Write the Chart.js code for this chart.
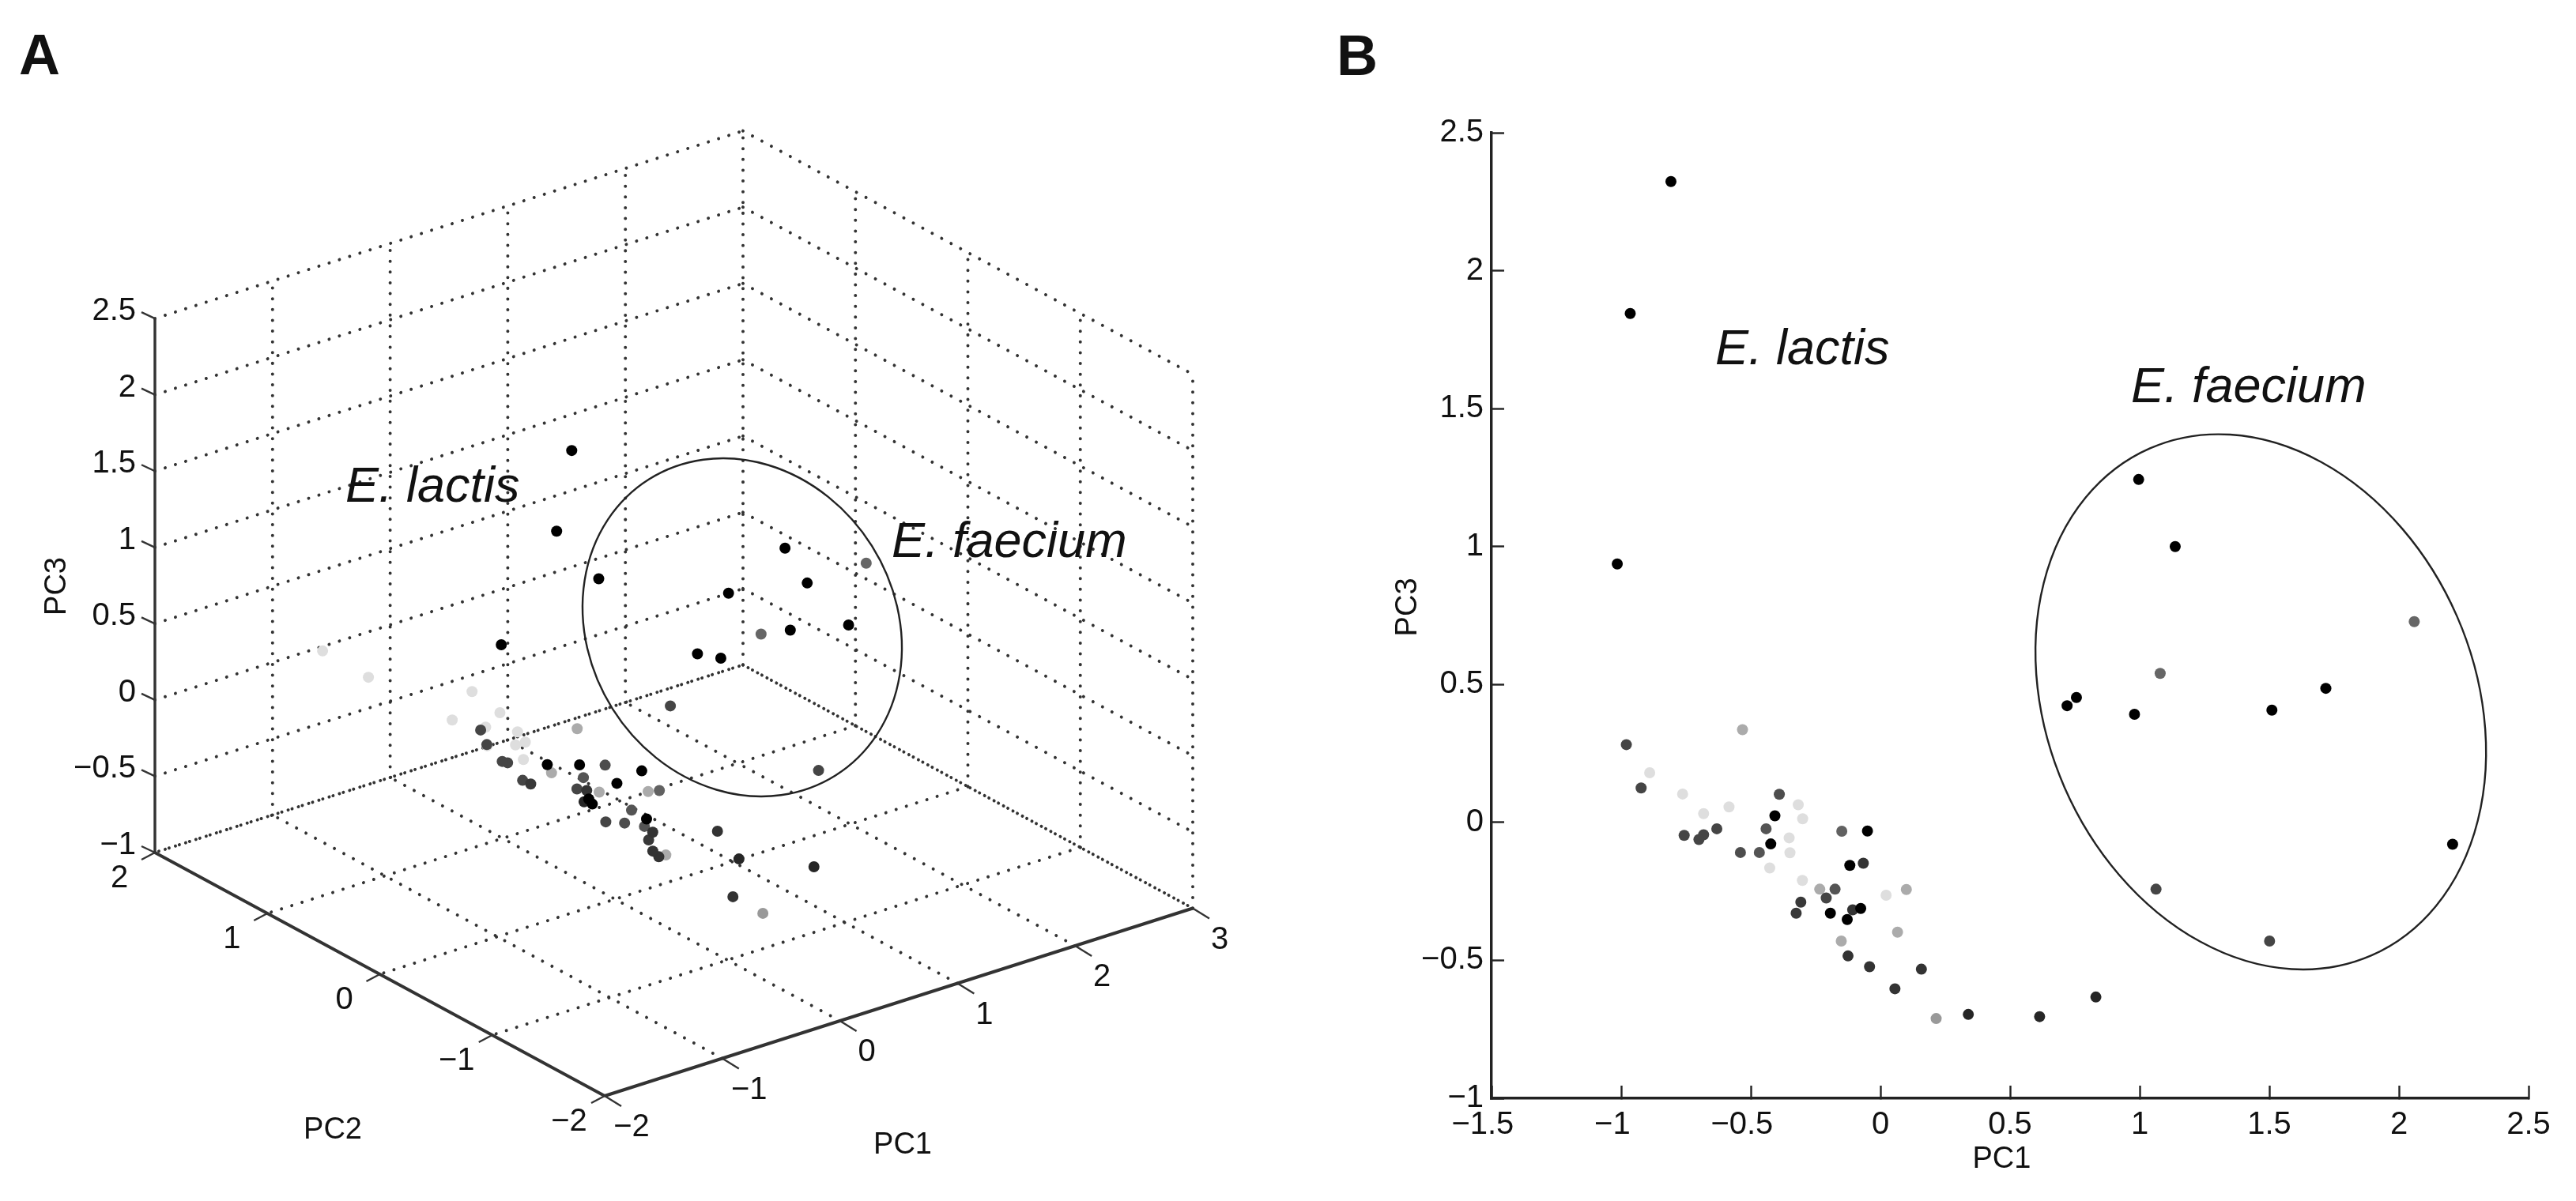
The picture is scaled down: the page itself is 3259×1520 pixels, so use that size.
<!DOCTYPE html>
<html lang="en">
<head>
  <meta charset="UTF-8">
  <title>PCA of E. lactis and E. faecium</title>
  <script src="https://cdn.jsdelivr.net/npm/chart.js"></script>
  <style>
    html, body { margin: 0; background: #fff; overflow: hidden; }
    canvas { position: absolute; top: 0; }
    #panelA { left: 0; }
    #panelB { left: 1640px; }
  </style>
</head>
<body>
  <canvas id="panelA" width="1640" height="1520"></canvas>
  <canvas id="panelB" width="1619" height="1520"></canvas>

  <script>
    // Scores, lightest marks first so dark ones sit on top
    const pc1 = [
      -0.89, -0.763, -0.682, -0.584, -0.317, -0.352, -0.349, -0.427, -0.301, 0.022, -0.3,
      -0.532, -0.234, 0.1, 0.066, -0.151, 0.215,
      2.059, 1.079, -0.149, -0.39, -0.467, -0.441, -0.175, -0.54,
      -0.209, -0.98, -0.923, -0.631, -0.757, -0.682, -0.7, 1.063, 1.501,
      -0.307, -0.325, -0.107, -0.125, -0.042, 0.158, 0.056, -0.066, 0.339, 0.614, 0.831,
      -0.407, -0.423, -0.05, -0.118, -0.193, -0.076, -0.128,
      0.996, 1.137, 0.756, 0.72, 0.98, 1.51, 1.718, 2.207, -0.808, -0.965, -1.015
    ];
    const pc2 = [
      1.67, 0.65, 1.48, 0.54, 0.94, 0.43, 0.52, 0.69, 0.5, 0.89, 0.71,
      -0.22, 0.32, -0.19, 0.21, -0.61, -1.09,
      -0.08, -0.17, -0.55, -0.32, -0.75, -0.18, -0.33, -0.65,
      0.12, 0.17, -0.01, 0.48, 0.03, 0.29, -0.65, 0.62, -0.24,
      -0.62, 0.41, 0.14, -0.52, -0.38, -0.17, -0.99, -0.98, 0.63, -0.46, -0.9,
      -0.11, 0.16, -0.29, -0.14, 0, -0.36, 0.1,
      -0.47, -0.52, -0.15, 0.02, 1.17, 0.57, -0.28, 0.75, -0.46, -0.49, -0.05
    ];
    const pc3 = [
      0.18, 0.103, 0.032, 0.056, 0.064, -0.056, -0.11, -0.165, -0.21, -0.264, 0.013,
      0.336, -0.242, -0.243, -0.398, -0.43, -0.711,
      0.728, 0.54, -0.032, 0.102, -0.109, -0.023, -0.242, -0.109,
      -0.274, 0.282, 0.125, -0.023, -0.047, -0.045, -0.062, -0.242, -0.43,
      -0.289, -0.329, -0.317, -0.484, -0.523, -0.532, -0.603, -0.148, -0.696, -0.704, -0.633,
      0.024, -0.078, -0.031, -0.156, -0.329, -0.312, -0.352,
      1.243, 1, 0.453, 0.423, 0.392, 0.407, 0.486, -0.079, 2.323, 1.845, 0.937
    ];
    // grey level of each mark, 0 = black, 1 = white
    const shade = [
      0.87, 0.87, 0.87, 0.87, 0.87, 0.87, 0.87, 0.87, 0.87, 0.87, 0.87,
      0.67, 0.67, 0.67, 0.67, 0.67, 0.6,
      0.4, 0.4, 0.38, 0.3, 0.33, 0.33, 0.33, 0.3,
      0.27, 0.27, 0.27, 0.27, 0.27, 0.27, 0.27, 0.27, 0.27,
      0.22, 0.22, 0.2, 0.2, 0.2, 0.2, 0.2, 0.2, 0.15, 0.15, 0.15,
      0, 0, 0, 0, 0, 0, 0,
      0, 0, 0, 0, 0, 0, 0, 0, 0, 0, 0
    ];

    const pc1Ticks3d = [-2, -1, 0, 1, 2, 3];
    const pc2Ticks3d = [2, 1, 0, -1, -2];
    const pc3Ticks3d = [-1, -0.5, 0, 0.5, 1, 1.5, 2, 2.5];

    const FONT = '"Liberation Sans", Arial, sans-serif';
    const INK = '#222';

    const grey = s => { const v = Math.round(s * 255); return `rgb(${v},${v},${v})`; };
    const fmt = v => (v < 0 ? '\u2212' : '') + Math.abs(v);

    // Panel A view: the box is drawn orthographically, each unit maps to a fixed shift
    function project(a, b, c) {
      const u = a + 2, v = 2 - b, w = c + 1;
      return {
        x: 196 + 148.8 * u + 142.25 * v,
        y: 1079 - 47.5 * u + 77 * v - 193.1 * w
      };
    }

    function drawTexts(ctx, items) {
      ctx.save();
      ctx.fillStyle = '#111';
      ctx.textBaseline = 'alphabetic';
      items.forEach(t => {
        ctx.save();
        ctx.font = t.font;
        ctx.textAlign = t.align || 'left';
        ctx.translate(t.x, t.y);
        if (t.rotate) ctx.rotate(t.rotate);
        ctx.fillText(t.text, 0, 0);
        ctx.restore();
      });
      ctx.restore();
    }

    // outline around a group, given as centre, half extents on each axis and their correlation
    function drawEllipse(chart, e) {
      const xs = chart.scales.x, ys = chart.scales.y;
      const cx = xs.getPixelForValue(e.x), cy = ys.getPixelForValue(e.y);
      const dx = xs.getPixelForValue(e.x + e.rx) - cx;
      const dy = ys.getPixelForValue(e.y + e.ry) - cy;
      const c = e.rho * dx * dy;
      const a = dx * dx, b = dy * dy;
      const mid = (a + b) / 2, diff = Math.sqrt(((a - b) / 2) ** 2 + c * c);
      const angle = 0.5 * Math.atan2(2 * c, a - b);
      const ctx = chart.ctx;
      ctx.save();
      ctx.strokeStyle = '#222';
      ctx.lineWidth = 2.4;
      ctx.beginPath();
      ctx.ellipse(cx, cy, Math.sqrt(mid + diff), Math.sqrt(mid - diff), angle, 0, Math.PI * 2);
      ctx.stroke();
      ctx.restore();
    }

    // ---- Panel A ----
    const lines3d = [];
    function addDotted(p, q) {
      lines3d.push({
        type: 'line', data: [project(...p), project(...q)],
        borderColor: '#333', borderWidth: 4, borderDash: [0.01, 13.6], borderCapStyle: 'round',
        pointRadius: 0, fill: false
      });
    }
    function addSolid(p, q, width) {
      lines3d.push({
        type: 'line', data: [project(...p), project(...q)],
        borderColor: '#333', borderWidth: width, pointRadius: 0, fill: false
      });
    }
    // tick stub: starts on the axis and runs a few pixels off it
    function addTick(p, off) {
      const a = project(...p);
      lines3d.push({
        type: 'line', data: [a, { x: a.x + off[0], y: a.y + off[1] }],
        borderColor: '#333', borderWidth: 2.4, pointRadius: 0, fill: false
      });
    }

    pc3Ticks3d.forEach(z => {
      addDotted([-2, 2, z], [3, 2, z]);
      addDotted([3, 2, z], [3, -2, z]);
    });
    pc1Ticks3d.slice(1).forEach(x => addDotted([x, 2, -1], [x, 2, 2.5]));
    pc2Ticks3d.slice(1).forEach(y => addDotted([3, y, -1], [3, y, 2.5]));
    pc1Ticks3d.slice(1).forEach(x => addDotted([x, -2, -1], [x, 2, -1]));
    pc2Ticks3d.slice(0, -1).forEach(y => addDotted([3, y, -1], [-2, y, -1]));

    addSolid([-2, 2, -1], [-2, 2, 2.5], 3.4);
    addSolid([-2, 2, -1], [-2, -2, -1], 4);
    addSolid([-2, -2, -1], [3, -2, -1], 4);
    pc3Ticks3d.forEach(z => addTick([-2, 2, z], [-17, -8]));
    pc2Ticks3d.forEach(y => addTick([-2, y, -1], [-17, 9]));
    pc1Ticks3d.forEach(x => addTick([x, -2, -1], [21, 13]));

    const texts3d = [
      { text: 'A', x: 24, y: 94, font: `bold 72px ${FONT}` },
      { text: 'E. lactis', x: 437, y: 635, font: `italic 63px ${FONT}` },
      { text: 'E. faecium', x: 1128, y: 705, font: `italic 63px ${FONT}` },
      { text: 'PC1', x: 1142, y: 1460, font: `38px ${FONT}`, align: 'center' },
      { text: 'PC2', x: 421, y: 1441, font: `38px ${FONT}`, align: 'center' },
      { text: 'PC3', x: 83, y: 742, font: `38px ${FONT}`, align: 'center', rotate: -Math.PI / 2 }
    ];
    pc3Ticks3d.forEach(z => {
      const p = project(-2, 2, z);
      texts3d.push({ text: fmt(z), x: p.x - 24, y: p.y + 2, font: `40px ${FONT}`, align: 'right' });
    });
    pc2Ticks3d.forEach(y => {
      const p = project(-2, y, -1);
      texts3d.push({ text: fmt(y), x: p.x - 45, y: p.y + 44, font: `40px ${FONT}`, align: 'center' });
    });
    pc1Ticks3d.forEach(x => {
      const p = project(x, -2, -1);
      texts3d.push({ text: fmt(x), x: p.x + 34, y: p.y + 51, font: `40px ${FONT}`, align: 'center' });
    });

    new Chart(document.getElementById('panelA'), {
      type: 'scatter',
      data: {
        datasets: [{
          data: pc1.map((v, i) => project(v, pc2[i], pc3[i])),
          pointRadius: 7, pointBorderWidth: 0,
          pointBackgroundColor: shade.map(grey),
          showLine: false, order: 0
        }].concat(lines3d.map(d => Object.assign(d, { order: 1 })))
      },
      options: {
        responsive: false, animation: false,
        layout: { autoPadding: false },
        plugins: { legend: { display: false }, tooltip: { enabled: false } },
        scales: {
          x: { type: 'linear', display: false, min: 0, max: 1640 },
          y: { type: 'linear', display: false, min: 0, max: 1520, reverse: true }
        }
      },
      plugins: [{
        id: 'panelATexts',
        afterDatasetsDraw(chart) {
          drawEllipse(chart, { x: 939, y: 794, rx: 202, ry: 214, rho: 0.12 });
          drawTexts(chart.ctx, texts3d);
        }
      }]
    });

    // ---- Panel B ----
    const textsB = [
      { text: 'B', x: 51, y: 95, font: `bold 72px ${FONT}` },
      { text: 'E. lactis', x: 530, y: 461, font: `italic 63px ${FONT}` },
      { text: 'E. faecium', x: 1056, y: 509, font: `italic 63px ${FONT}` }
    ];

    const axisStyle = {
      grid: { drawOnChartArea: false, tickLength: -16, tickWidth: 2.4, tickColor: INK },
      border: { color: INK, width: 3.4 }
    };

    new Chart(document.getElementById('panelB'), {
      type: 'scatter',
      data: {
        datasets: [{
          data: pc1.map((v, i) => ({ x: v, y: pc3[i] })),
          pointRadius: 7, pointBorderWidth: 0,
          pointBackgroundColor: shade.map(grey),
          showLine: false
        }]
      },
      options: {
        responsive: false, animation: false,
        layout: { autoPadding: false, padding: { top: 168, right: 60 } },
        plugins: { legend: { display: false }, tooltip: { enabled: false } },
        scales: {
          x: Object.assign({
            type: 'linear', min: -1.5, max: 2.5,
            afterFit(s) { s.height = 130; },
            // the spaces pull the centred titles off the middle of the axis, as in the original
            title: { display: true, text: 'PC1  ', color: '#111', font: { family: FONT, size: 38 }, padding: { top: 30, bottom: 30 } },
            ticks: {
              stepSize: 0.5, autoSkip: false, maxRotation: 0, padding: 26, color: '#111',
              font: { family: FONT, size: 40 },
              callback: v => v < 0 ? fmt(v) + '  ' : fmt(v)
            }
          }, axisStyle),
          y: Object.assign({
            type: 'linear', min: -1, max: 2.5,
            afterFit(s) { s.width = 247; },
            title: { display: true, text: '  PC3', color: '#111', font: { family: FONT, size: 38 }, padding: { top: 119, bottom: 0 } },
            ticks: {
              stepSize: 0.5, autoSkip: false, padding: 26, color: '#111',
              font: { family: FONT, size: 40 },
              callback: v => fmt(v)
            }
          }, axisStyle)
        }
      },
      plugins: [{
        id: 'panelBTexts',
        afterDatasetsDraw(chart) {
          drawEllipse(chart, { x: 1.467, y: 0.437, rx: 0.869, ry: 0.97, rho: -0.187 });
          drawTexts(chart.ctx, textsB);
        }
      }]
    });
  </script>
</body>
</html>
